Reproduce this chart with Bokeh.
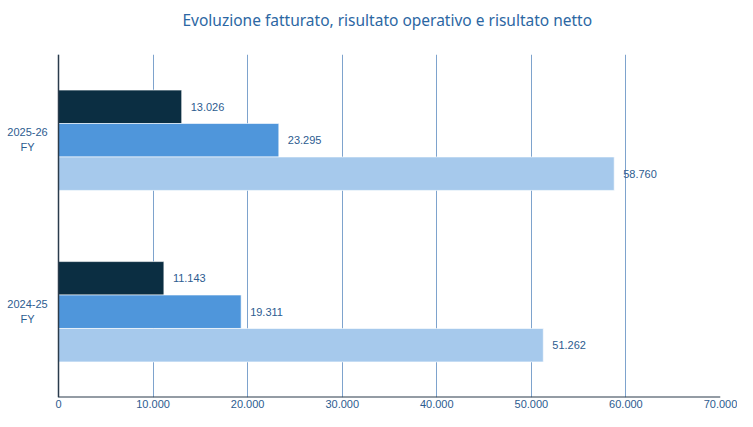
from bokeh.plotting import figure
from bokeh.models import FactorRange, ColumnDataSource, FixedTicker, Title
from bokeh.transform import dodge
from bokeh.embed import file_html
from bokeh.resources import INLINE
from bokeh.core.properties import value

categories = ["2024-25 FY", "2025-26 FY"]
cat_line1 = ["2024-25", "2025-26"]
cat_line2 = ["FY", "FY"]
risultato_netto = [11143, 13026]
risultato_operativo = [19311, 23295]
fatturato = [51262, 58760]
x_ticks = [0, 10000, 20000, 30000, 40000, 50000, 60000, 70000]
title_text = "Evoluzione fatturato, risultato operativo e risultato netto"

TXT = "#2d5c90"
AXIS = "#2a3b4b"

def fmt(v):
    return f"{v:,}".replace(",", ".")

p = figure(width=737, height=411, output_backend="svg", toolbar_location=None, title=None,
           y_range=FactorRange(factors=categories), x_range=(-6133, 70000),
           min_border_left=0, min_border_right=17, min_border_top=54, min_border_bottom=14)

# spacer between the title and the plot area, then the title itself
p.add_layout(Title(text="\u00a0", text_font_size="20px", standoff=0), "above")
p.add_layout(Title(text=title_text, align="left", offset=182, standoff=0,
                   text_font="Noto Sans", text_font_size="15.5px",
                   text_font_style="normal", text_color="#2c67a3"), "above")

series = [
    (risultato_netto, 0.195, "#0b2e42"),
    (risultato_operativo, 0.0, "#4f96db"),
    (fatturato, -0.195, "#a6c9ec"),
]
for vals, off, col in series:
    src = ColumnDataSource(dict(cat=categories, val=vals, lab=[fmt(v) for v in vals]))
    p.hbar(y=dodge("cat", off, range=p.y_range), right="val", left=0, height=0.195,
           source=src, fill_color=col, line_color="white", line_width=0.6)
    p.text(x="val", y=dodge("cat", off, range=p.y_range), text="lab", source=src,
           x_offset=9, text_baseline="middle", text_align="left",
           text_font=value("Liberation Sans"), text_font_size="11px", text_color=TXT)

# category labels (two lines) left of the value axis
lab_src = ColumnDataSource(dict(cat=categories, l1=cat_line1, l2=cat_line2,
                                x=[x_ticks[0]] * len(categories)))
p.text(x="x", y=dodge("cat", 0.046, range=p.y_range), text="l1", source=lab_src,
       x_offset=-31, text_baseline="middle", text_align="center",
       text_font=value("Liberation Sans"), text_font_size="11px", text_color=TXT)
p.text(x="x", y=dodge("cat", -0.042, range=p.y_range), text="l2", source=lab_src,
       x_offset=-31, text_baseline="middle", text_align="center",
       text_font=value("Liberation Sans"), text_font_size="11px", text_color=TXT)

# axis lines starting at the value origin
p.segment(x0=[x_ticks[0]], x1=[x_ticks[-1]], y0=[0], y1=[0], line_color=AXIS, line_width=2)
p.segment(x0=[x_ticks[0]], x1=[x_ticks[0]], y0=[0], y1=[len(categories)], line_color=AXIS, line_width=1.5)

p.xaxis.ticker = FixedTicker(ticks=x_ticks)
p.xaxis.major_label_overrides = {t: fmt(t) for t in x_ticks}
p.xaxis.major_tick_line_color = None
p.xaxis.major_tick_out = 0
p.xaxis.major_tick_in = 0
p.xaxis.minor_tick_line_color = None
p.xaxis.axis_line_color = None
p.xaxis.major_label_text_font = "Liberation Sans"
p.xaxis.major_label_text_font_size = "11px"
p.xaxis.major_label_text_color = TXT
p.xaxis.major_label_standoff = 2

p.yaxis.visible = False

p.xgrid.grid_line_color = "#5d8cc0"
p.xgrid.grid_line_width = 0.8
p.ygrid.grid_line_color = None
p.outline_line_color = None

open("out.html", "w").write(file_html(p, INLINE))
